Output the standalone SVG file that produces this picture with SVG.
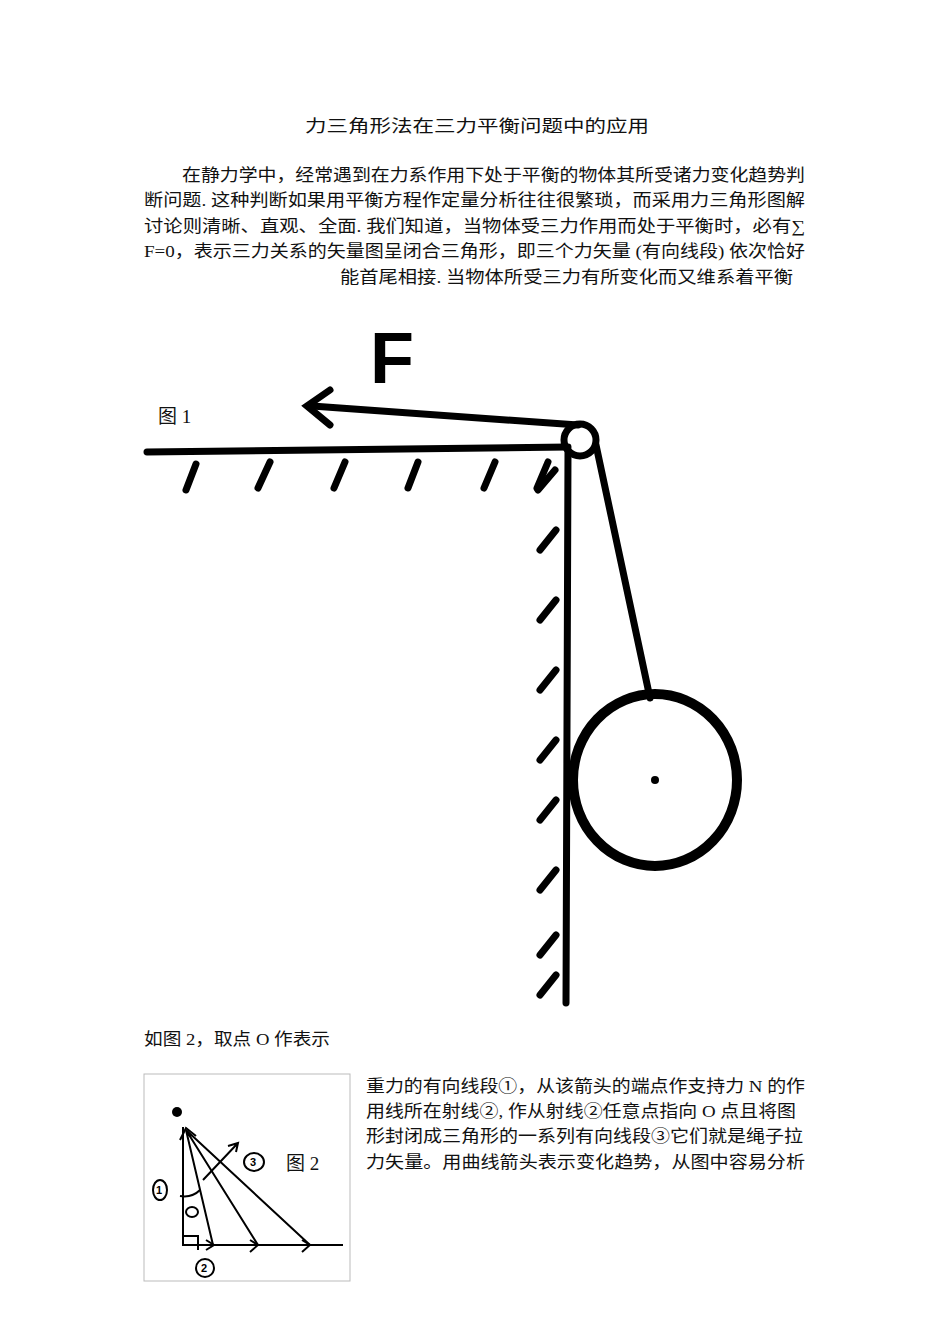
<svg xmlns="http://www.w3.org/2000/svg" width="950" height="1344" viewBox="0 0 950 1344">
<style>
.t{font-family:"Liberation Serif","Noto Sans CJK SC",serif;font-size:17px;fill:#111}
.h{stroke:#000;stroke-width:7;stroke-linecap:round;fill:none}
.thin{stroke:#000;stroke-width:2;fill:none}
.c{font-family:"Liberation Sans",sans-serif;font-size:11px;font-weight:bold}
</style>
<rect width="950" height="1344" fill="#fff"/>
<text class="t" x="305" y="132" textLength="344" lengthAdjust="spacingAndGlyphs">力三角形法在三力平衡问题中的应用</text>
<text class="t" x="182" y="181" textLength="623" lengthAdjust="spacingAndGlyphs">在静力学中，经常遇到在力系作用下处于平衡的物体其所受诸力变化趋势判</text>
<text class="t" x="144" y="206" textLength="661" lengthAdjust="spacingAndGlyphs">断问题. 这种判断如果用平衡方程作定量分析往往很繁琐，而采用力三角形图解</text>
<text class="t" x="144" y="232" textLength="661" lengthAdjust="spacingAndGlyphs">讨论则清晰、直观、全面. 我们知道，当物体受三力作用而处于平衡时，必有∑</text>
<text class="t" x="144" y="257" textLength="661" lengthAdjust="spacingAndGlyphs">F=0，表示三力关系的矢量图呈闭合三角形，即三个力矢量 (有向线段) 依次恰好</text>
<text class="t" x="340" y="283" textLength="453" lengthAdjust="spacingAndGlyphs">能首尾相接. 当物体所受三力有所变化而又维系着平衡</text>
<g id="fig1">
<text class="t" x="158" y="423" style="font-size:19px">图 1</text>
<text x="370" y="383" style="font-family:'Liberation Sans',sans-serif;font-size:72px;font-weight:bold">F</text>
<path class="h" d="M147 452 L568 447"/>
<path class="h" d="M196 464 L186 490 M270 462 L258 488 M345 462 L334 488 M418 462 L408 488 M495 462 L484 488 M548 462 L537 488"/>
<path class="h" d="M568 450 L566 1003"/>
<path class="h" d="M555 470 L538 490 M556 530 L540 550 M556 600 L540 620 M556 670 L540 690 M556 740 L540 760 M556 800 L540 820 M556 870 L540 890 M556 935 L540 955 M556 975 L540 995"/>
<path class="h" d="M312 406 L578 425"/>
<path class="h" d="M330 390 L307 406 L330 425"/>
<circle cx="580" cy="440" r="16" class="h"/>
<path class="h" d="M596 445 L650 698"/>
<ellipse cx="655" cy="780" rx="82" ry="86" class="h" style="stroke-width:10"/>
<circle cx="655" cy="780" r="4"/>
</g>
<text class="t" x="144" y="1045" textLength="186" lengthAdjust="spacingAndGlyphs">如图 2，取点 O 作表示</text>
<text class="t" x="366" y="1092" textLength="439" lengthAdjust="spacingAndGlyphs">重力的有向线段①，从该箭头的端点作支持力 N 的作</text>
<text class="t" x="366" y="1117" textLength="430" lengthAdjust="spacingAndGlyphs">用线所在射线②, 作从射线②任意点指向 O 点且将图</text>
<text class="t" x="366" y="1142" textLength="437" lengthAdjust="spacingAndGlyphs">形封闭成三角形的一系列有向线段③它们就是绳子拉</text>
<text class="t" x="366" y="1168" textLength="439" lengthAdjust="spacingAndGlyphs">力矢量。用曲线箭头表示变化趋势，从图中容易分析</text>
<g id="fig2">
<rect x="144" y="1074" width="206" height="207" fill="none" stroke="#bbb"/>
<circle cx="177" cy="1112" r="5"/>
<path class="thin" d="M183 1127 L183 1245 L343 1245"/>
<path class="thin" d="M186 1130 L213 1245 M186 1130 L258 1245 M186 1130 L310 1245"/>
<path class="thin" d="M180 1140 L186 1128 L196 1136 M183 1245 L183 1237 M183 1236 L198 1236 L198 1250"/>
<path class="thin" d="M203 1180 L238 1143 M228 1146 L238 1143 L236 1152"/>
<path class="thin" d="M180 1196 Q192 1198 200 1190"/>
<path class="thin" d="M206 1240 L214 1245 L206 1250 M250 1240 L258 1245 L250 1252 M302 1240 L310 1245 L302 1252"/>
<ellipse cx="192" cy="1212" rx="6" ry="5" class="thin"/>
<ellipse cx="160" cy="1190" rx="7" ry="10" class="thin"/><text class="c" x="156" y="1194">1</text>
<ellipse cx="254" cy="1162" rx="10" ry="9" class="thin"/><text class="c" x="250" y="1166">3</text>
<ellipse cx="205" cy="1268" rx="9" ry="9" class="thin"/><text class="c" x="201" y="1272">2</text>
<text class="t" x="286" y="1170" style="font-size:19px">图 2</text>
</g>
</svg>
